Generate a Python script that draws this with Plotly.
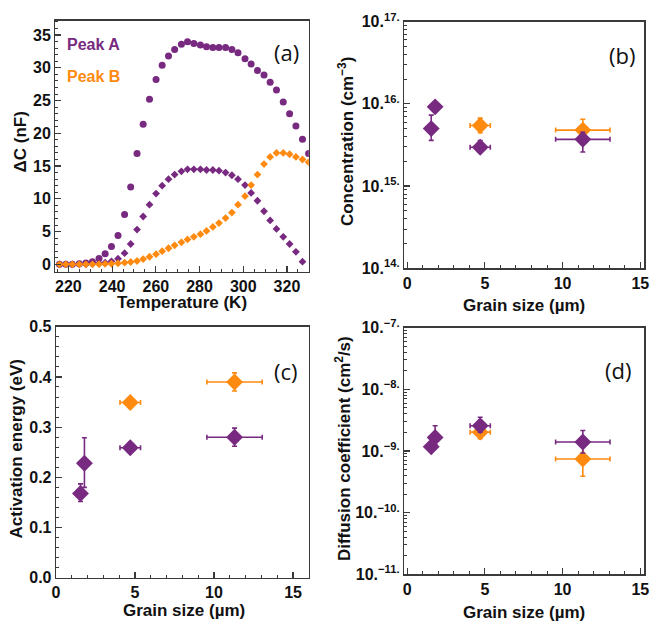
import plotly.graph_objects as go

# ---------------- data ----------------
# Panel (a): temperature scan
temperature = [215.9, 218.8, 221.8, 225.0, 228.0, 231.0, 234.0, 236.8, 239.7, 242.7,
               245.7, 248.5, 251.4, 254.2, 257.1, 260.1, 262.9, 265.8, 268.6, 271.7,
               274.5, 277.4, 280.4, 283.2, 286.1, 288.9, 291.9, 294.8, 297.6, 300.8,
               303.6, 306.5, 309.5, 312.3, 315.2, 318.3, 321.2, 324.1, 327.1, 329.9]
peakA_large = [0.0, 0.0, 0.0, 0.1, 0.2, 0.4, 0.9, 1.6, 2.7, 4.4,
               7.6, 11.8, 16.9, 21.4, 25.2, 28.2, 30.4, 31.8, 32.8, 33.6,
               34.0, 33.7, 33.5, 33.2, 33.1, 33.1, 33.1, 32.8, 32.3, 31.4,
               30.6, 29.6, 28.9, 27.8, 26.6, 24.8, 23.0, 21.1, 19.1, 16.9]
peakA_small = [0.0, 0.0, 0.0, 0.0, 0.0, 0.05, 0.15, 0.25, 0.45, 0.85,
               1.7, 3.1, 5.3, 7.3, 9.1, 10.8, 12.0, 13.0, 13.7, 14.2,
               14.5, 14.5, 14.5, 14.4, 14.4, 14.3, 14.0, 13.6, 13.0, 12.1,
               10.9, 9.7, 8.1, 6.7, 5.4, 4.2, 3.1, 1.9, 0.4, None]
peakB_small = [0.0, 0.0, 0.0, 0.0, 0.0, 0.0, 0.02, 0.05, 0.08, 0.15,
               0.25, 0.35, 0.5, 0.8, 1.15, 1.55, 2.0, 2.45, 2.9, 3.35,
               3.8, 4.2, 4.6, 5.1, 5.7, 6.3, 7.05, 7.9, 9.1, 10.4,
               12.1, 13.7, 15.3, 16.4, 17.0, 17.0, 16.8, 16.4, 16.0, 15.6]

# Panels (b)-(d): grain size dependence
grainA = [1.55, 1.8, 4.7, 11.3]
grainA_xerr = [0, 0, 0.65, 1.75]
grainB = [4.7, 11.3]
grainB_xerr = [0.65, 1.75]

concA = [5.0e15, 9.2e15, 2.97e15, 3.7e15]
concA_plus = [2.3e15, 0.6e15, 0.6e15, 0.8e15]
concA_minus = [1.4e15, 0.6e15, 0.35e15, 1.1e15]
concB = [5.45e15, 4.8e15]
concB_plus = [1.25e15, 1.7e15]
concB_minus = [1.0e15, 1.0e15]

eaA = [0.168, 0.228, 0.259, 0.280]
eaA_plus = [0.019, 0.051, 0.006, 0.018]
eaA_minus = [0.016, 0.048, 0.006, 0.018]
eaB = [0.349, 0.390]
eaB_plus = [0.006, 0.018]
eaB_minus = [0.006, 0.018]

diffA = [1.17e-9, 1.66e-9, 2.57e-9, 1.40e-9]
diffA_plus = [0.1e-9, 0.9e-9, 0.95e-9, 0.75e-9]
diffA_minus = [0.1e-9, 0.4e-9, 0.55e-9, 0.47e-9]
diffB = [2.02e-9, 7.4e-10]
diffB_plus = [0.55e-9, 4.9e-10]
diffB_minus = [0.44e-9, 3.5e-10]

xticks_a = [220, 240, 260, 280, 300, 320]
yticks_a = [0, 5, 10, 15, 20, 25, 30, 35]
xticks_g = [0, 5, 10, 15]
yticks_c = [0.0, 0.1, 0.2, 0.3, 0.4, 0.5]
conc_exps = [14, 15, 16, 17]
diff_exps = [-11, -10, -9, -8, -7]

PURPLE = "#772a80"
ORANGE = "#ff8a10"
AXC = "#3a3a3a"
W, H = 666, 633

fig = go.Figure()

# ----- panel (a)
fig.add_trace(go.Scatter(x=temperature, y=peakA_large, mode="markers",
                         marker=dict(symbol="circle", size=7, color=PURPLE),
                         xaxis="x", yaxis="y", showlegend=False))
fig.add_trace(go.Scatter(x=temperature, y=peakA_small, mode="markers",
                         marker=dict(symbol="diamond", size=6, color=PURPLE),
                         xaxis="x", yaxis="y", showlegend=False))
fig.add_trace(go.Scatter(x=temperature, y=peakB_small, mode="markers",
                         marker=dict(symbol="diamond", size=6, color=ORANGE),
                         xaxis="x", yaxis="y", showlegend=False))


def err_trace(x, y, xerr, yp, ym, color, xa, ya):
    return go.Scatter(
        x=x, y=y, mode="markers",
        marker=dict(symbol="diamond", size=13, color=color),
        error_x=dict(type="data", array=xerr, symmetric=True, color=color,
                     thickness=1.6, width=2.5),
        error_y=dict(type="data", array=yp, arrayminus=ym, symmetric=False,
                     color=color, thickness=1.6, width=2.5),
        xaxis=xa, yaxis=ya, showlegend=False)


fig.add_trace(err_trace(grainB, concB, grainB_xerr, concB_plus, concB_minus, ORANGE, "x2", "y2"))
fig.add_trace(err_trace(grainA, concA, grainA_xerr, concA_plus, concA_minus, PURPLE, "x2", "y2"))
fig.add_trace(err_trace(grainB, eaB, grainB_xerr, eaB_plus, eaB_minus, ORANGE, "x3", "y3"))
fig.add_trace(err_trace(grainA, eaA, grainA_xerr, eaA_plus, eaA_minus, PURPLE, "x3", "y3"))
fig.add_trace(err_trace(grainB, diffB, grainB_xerr, diffB_plus, diffB_minus, ORANGE, "x4", "y4"))
fig.add_trace(err_trace(grainA, diffA, grainA_xerr, diffA_plus, diffA_minus, PURPLE, "x4", "y4"))

tickfont = dict(family="Liberation Sans", size=16, color="#111")


def bold(vals, fmt="%g"):
    return ["<b>" + (fmt % v) + "</b>" for v in vals]


def ax(domain, anchor, **kw):
    d = dict(domain=domain, anchor=anchor, showline=True, linecolor=AXC, linewidth=1.3,
             mirror=True, ticks="inside", ticklen=6, tickwidth=1.2, tickcolor=AXC,
             showgrid=False, zeroline=False, tickfont=tickfont, fixedrange=True)
    d.update(kw)
    return d


def minor(**kw):
    d = dict(ticks="inside", ticklen=3, tickwidth=1, tickcolor=AXC, showgrid=False)
    d.update(kw)
    return d


def log_minor(exps):
    vals = []
    for e in exps[:-1]:
        for m in range(2, 10):
            vals.append(m * 10.0 ** e)
    return vals


def sup(e):
    s = str(e).replace("-", "\u2212")
    return "<b>10.<sup>" + s + ".</sup></b>"


def dx(a, b):
    return [a / W, b / W]


def dy(top, bottom):
    return [1 - bottom / H, 1 - top / H]


fig.update_layout(
    width=W, height=H, margin=dict(l=0, r=0, t=0, b=0),
    paper_bgcolor="white", plot_bgcolor="white", hovermode=False,
    xaxis=ax(dx(52, 309), "y", range=[214, 330], tickvals=xticks_a,
             ticktext=bold(xticks_a), minor=minor(dtick=5)),
    yaxis=ax(dy(10, 269), "x", range=[-1.1, 37.2], tickvals=yticks_a,
             ticktext=bold(yticks_a), minor=minor(dtick=1)),
    xaxis2=ax(dx(405.5, 649), "y2", range=[-0.2, 15.25], tickvals=xticks_g,
              ticktext=bold(xticks_g), minor=minor(dtick=1)),
    yaxis2=ax(dy(11, 265.7), "x2", type="log", range=[14, 17],
              tickvals=[10.0 ** e for e in conc_exps], ticktext=[sup(e) for e in conc_exps],
              minor=minor(tickvals=log_minor(conc_exps))),
    xaxis3=ax(dx(52.7, 309), "y3", range=[0, 16], tickvals=xticks_g,
              ticktext=bold(xticks_g), minor=minor(dtick=1)),
    yaxis3=ax(dy(326, 585.3), "x3", range=[0, 0.5], tickvals=yticks_c,
              ticktext=bold(yticks_c, "%.1f"), minor=minor(dtick=0.02)),
    xaxis4=ax(dx(405.5, 649), "y4", range=[-0.2, 15.25], tickvals=xticks_g,
              ticktext=bold(xticks_g), minor=minor(dtick=1)),
    yaxis4=ax(dy(327, 581.7), "x4", type="log", range=[-11, -7],
              tickvals=[10.0 ** e for e in diff_exps], ticktext=[sup(e) for e in diff_exps],
              minor=minor(tickvals=log_minor(diff_exps))),
)

titlefont = dict(family="Liberation Sans", size=17, color="#111")
labfont = dict(family="Open Sans", size=22, color="#111")


def px(x, y):
    return x / W, 1 - y / H


annots = [
    # axis titles
    ("<b>\u0394C (nF)</b>", 17, 135, -90, titlefont),
    ("<b>Concentration (cm<sup>\u22123</sup>)</b>", 346, 135, -90, titlefont),
    ("<b>Activation energy (eV)</b>", 13, 452, -90, titlefont),
    ("<b>Diffusion coefficient (cm<sup>2</sup>/s)</b>", 343, 452, -90, titlefont),
    ("<b>Temperature (K)</b>", 180, 301, 0, titlefont),
    ("<b>Grain size (\u00b5m)</b>", 527, 304, 0, titlefont),
    ("<b>Grain size (\u00b5m)</b>", 182, 619, 0, titlefont),
    ("<b>Grain size (\u00b5m)</b>", 527, 621, 0, titlefont),
    # panel labels
    ("(a)", 286, 42, 0, labfont),
    ("(b)", 626, 45, 0, labfont),
    ("(c)", 286, 372, 0, labfont),
    ("(d)", 622, 371, 0, labfont),
]
for text, x, y, ang, f in annots:
    xx, yy = px(x, y)
    fig.add_annotation(text=text, x=xx, y=yy, xref="paper", yref="paper",
                       showarrow=False, textangle=ang, font=f,
                       xanchor="center", yanchor="middle")

for text, color, y in [("Peak A", PURPLE, 35), ("Peak B", ORANGE, 68)]:
    xx, yy = px(62, y)
    fig.add_annotation(text="<b>" + text + "</b>", x=xx, y=yy, xref="paper", yref="paper",
                       showarrow=False, xanchor="left", yanchor="middle",
                       font=dict(family="Liberation Sans", size=16, color=color))

# remove the browser's default page margin so the figure sits at the window origin
fig.write_html("out.html", config={"displayModeBar": False, "staticPlot": True},
               post_script="document.body.style.margin='0px';")
